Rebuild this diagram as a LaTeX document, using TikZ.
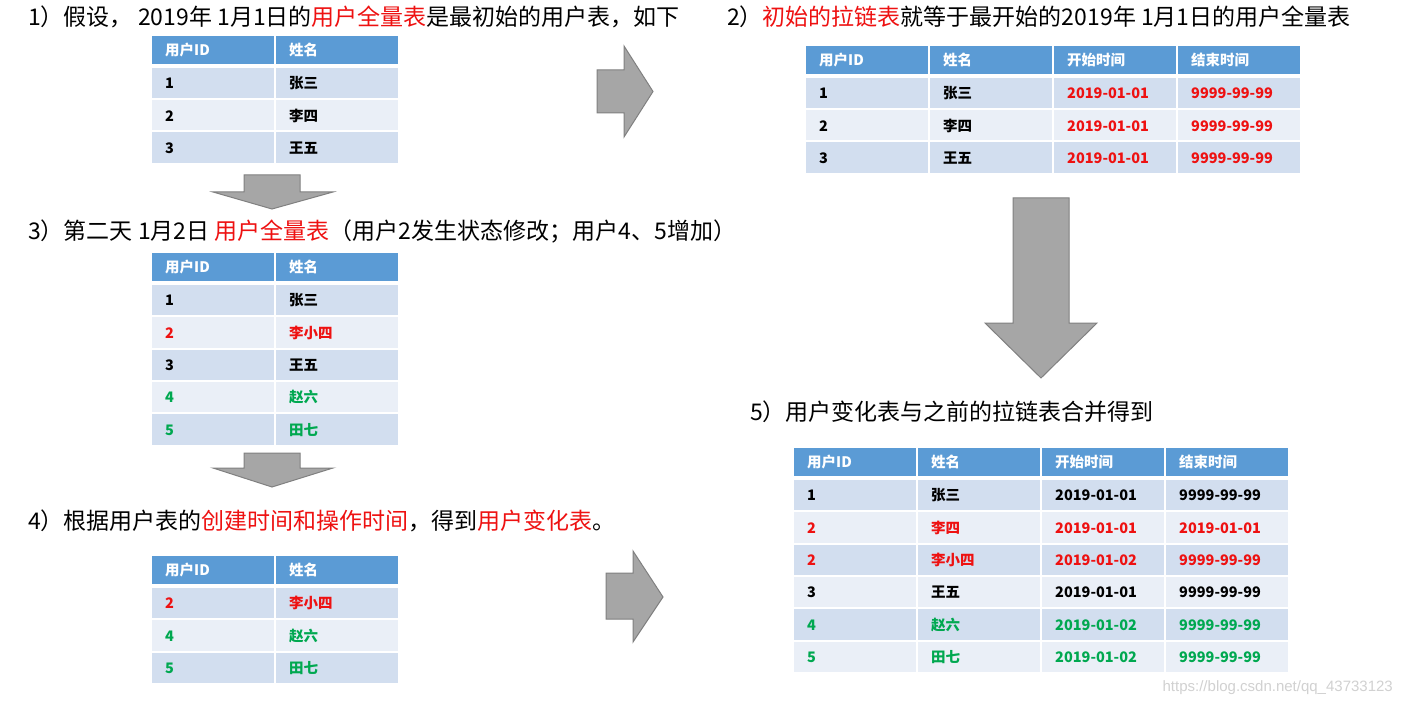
\documentclass[tikz,border=0pt]{standalone}
\usepackage{fontspec}
\setmainfont{Liberation Sans}
\newfontfamily\cjk{Noto Sans CJK SC}
\usetikzlibrary{matrix}

\definecolor{hdrblue}{HTML}{5B9BD5}
\definecolor{banddark}{HTML}{D2DEEF}
\definecolor{bandlight}{HTML}{EAEFF7}
\definecolor{tred}{HTML}{EE1111}
\definecolor{tgreen}{HTML}{00A850}
\definecolor{arrowfill}{HTML}{A6A6A6}
\definecolor{arrowline}{HTML}{808080}

\tikzset{
  headline/.style={anchor=base west, inner sep=0pt, font=\cjk\fontsize{23}{24}\selectfont},
  cell/.style={rectangle, text width=96pt, inner xsep=13pt, inner ysep=0pt, minimum height=30.4pt,
    align=left, text height=13pt, text depth=1.5pt, font=\cjk\bfseries\fontsize{14.5}{14.5}\selectfont},
  hdr/.style={fill=hdrblue, text=white, minimum height=28pt},
  tbl/.style={matrix of nodes, anchor=north west, inner sep=0pt, row sep=2pt, column sep=2pt,
    nodes={cell, fill=bandlight},
    every even row/.style={nodes={fill=banddark}},
    row 1/.style={nodes={hdr}}},
  rd/.style={text=tred},
  gn/.style={text=tgreen},
  grayarrow/.style={fill=arrowfill, draw=arrowline, line width=1pt, line join=miter},
}

\begin{document}
\begin{tikzpicture}[x=1pt, y=-1pt]

    \useasboundingbox (0,0) rectangle (1402,703);
    \fill[white] (0,0) rectangle (1402,703);

    % left column
    \node[headline] (s1) at (28,26) {1）假设，\ 2019年 1月1日的\textcolor{tred}{用户全量表}是最初始的用户表，如下};

    \matrix (tfull) [tbl] at (152,36) {
        用户ID & 姓名 \\[1.5pt]
        1 & 张三 \\
        2 & 李四 \\
        3 & 王五 \\
    };

    \draw[grayarrow] (244,175) -- (300,175) -- (300,192) -- (333,192) -- (272,209) -- (213,192) -- (244,192) -- cycle;

    \node[headline] (s3) at (28,240) {3）第二天 1月2日 \textcolor{tred}{用户全量表}（用户2发生状态修改；用户4、5增加）};

    \matrix (tday) [tbl] at (152,253) {
        用户ID & 姓名 \\[1.5pt]
        1 & 张三 \\
        |[rd]| 2 & |[rd]| 李小四 \\
        3 & 王五 \\
        |[gn]| 4 & |[gn]| 赵六 \\
        |[gn]| 5 & |[gn]| 田七 \\
    };

    \draw[grayarrow] (244,453) -- (300,453) -- (300,468) -- (333,468) -- (272,487) -- (213,468) -- (244,468) -- cycle;

    \node[headline] (s4) at (28,529) {4）根据用户表的\textcolor{tred}{创建时间和操作时间}，得到\textcolor{tred}{用户变化表}。};

    \matrix (tdelta) [tbl] at (152,556) {
        用户ID & 姓名 \\[1.5pt]
        |[rd]| 2 & |[rd]| 李小四 \\
        |[gn]| 4 & |[gn]| 赵六 \\
        |[gn]| 5 & |[gn]| 田七 \\
    };

    % arrows to the right column
    \draw[grayarrow] (597,70) -- (624,70) -- (624,46) -- (653,91.5) -- (624,137) -- (624,113) -- (597,113) -- cycle;
    \draw[grayarrow] (606,573) -- (633,573) -- (633,551) -- (663,597) -- (633,642) -- (633,619) -- (606,619) -- cycle;

    % right column
    \node[headline] (s2) at (727,26) {2）\textcolor{tred}{初始的拉链表}就等于最开始的2019年 1月1日的用户全量表};

    \matrix (tchain) [tbl] at (806,46) {
        用户ID & 姓名 & 开始时间 & 结束时间 \\[1.5pt]
        1 & 张三 & |[rd]| 2019-01-01 & |[rd]| 9999-99-99 \\
        2 & 李四 & |[rd]| 2019-01-01 & |[rd]| 9999-99-99 \\
        3 & 王五 & |[rd]| 2019-01-01 & |[rd]| 9999-99-99 \\
    };

    \draw[grayarrow] (1013,198) -- (1069,198) -- (1069,323) -- (1097,323) -- (1041,378) -- (985,323) -- (1013,323) -- cycle;

    \node[headline] (s5) at (750,420) {5）用户变化表与之前的拉链表合并得到};

    \matrix (tmerge) [tbl] at (794,448) {
        用户ID & 姓名 & 开始时间 & 结束时间 \\[1.5pt]
        1 & 张三 & 2019-01-01 & 9999-99-99 \\
        |[rd]| 2 & |[rd]| 李四 & |[rd]| 2019-01-01 & |[rd]| 2019-01-01 \\
        |[rd]| 2 & |[rd]| 李小四 & |[rd]| 2019-01-02 & |[rd]| 9999-99-99 \\
        3 & 王五 & 2019-01-01 & 9999-99-99 \\
        |[gn]| 4 & |[gn]| 赵六 & |[gn]| 2019-01-02 & |[gn]| 9999-99-99 \\
        |[gn]| 5 & |[gn]| 田七 & |[gn]| 2019-01-02 & |[gn]| 9999-99-99 \\
    };

    \node[anchor=base east, inner sep=0pt, text=black!18, font=\fontsize{15}{15}\selectfont] (mark) at (1393,691) {https://blog.csdn.net/qq\_43733123};

\end{tikzpicture}
\end{document}
